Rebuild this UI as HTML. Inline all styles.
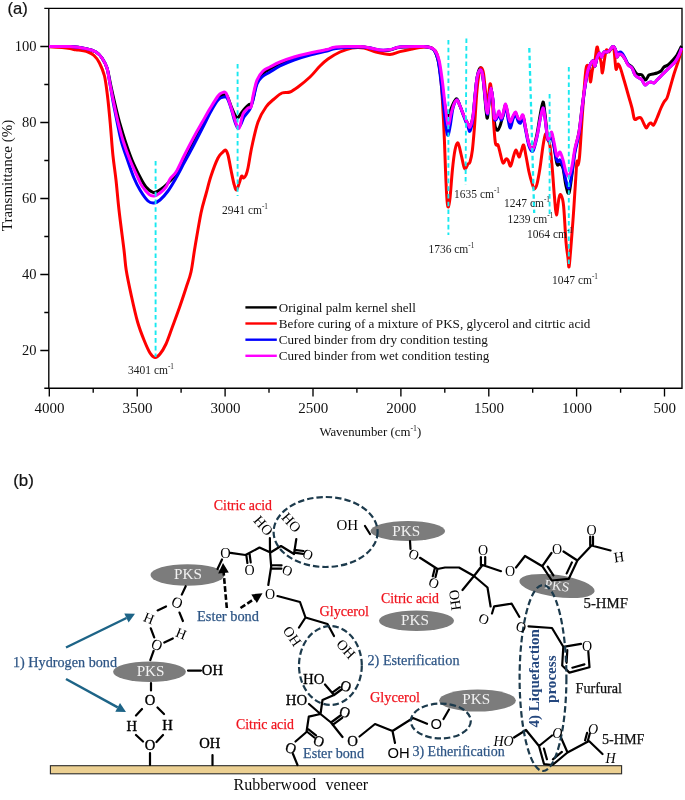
<!DOCTYPE html>
<html lang="en"><head><meta charset="utf-8"><title>FTIR spectra and bonding mechanism</title>
<style>html,body{margin:0;padding:0;background:#fff}svg{display:block}text{white-space:pre}</style></head>
<body>
<svg width="685" height="800" viewBox="0 0 685 800">
<rect width="685" height="800" fill="#fff"/>
<g id="chart">
<text x="7.6" y="13.8" font-family="Liberation Sans, sans-serif" font-size="16.6" fill="#111" stroke="#111" stroke-width="0.2">(a)</text>
<path d="M44.3 8.4H682.0V388.2H44.3M48.8 8.4V388.2" fill="none" stroke="#000" stroke-width="1.35"/>
<path d="M48.8 350.5h-8.5M48.8 274.5h-8.5M48.8 198.5h-8.5M48.8 122.5h-8.5M48.8 46.5h-8.5M48.8 312.5h-4.5M48.8 236.5h-4.5M48.8 160.5h-4.5M48.8 84.5h-4.5M49.3 388.2v8.3M137.2 388.2v8.3M225.1 388.2v8.3M313.0 388.2v8.3M400.9 388.2v8.3M488.8 388.2v8.3M576.6 388.2v8.3M664.5 388.2v8.3M93.2 388.2v4.6M181.1 388.2v4.6M269.0 388.2v4.6M356.9 388.2v4.6M444.8 388.2v4.6M532.7 388.2v4.6M620.6 388.2v4.6" stroke="#000" stroke-width="1.35" fill="none"/>
<g font-family="Liberation Serif, serif" font-size="15" fill="#111">
<text x="36.5" y="355.3" text-anchor="end" font-size="14.5">20</text>
<text x="36.5" y="279.3" text-anchor="end" font-size="14.5">40</text>
<text x="36.5" y="203.3" text-anchor="end" font-size="14.5">60</text>
<text x="36.5" y="127.3" text-anchor="end" font-size="14.5">80</text>
<text x="36.5" y="51.3" text-anchor="end" font-size="14.5">100</text>
<text x="49.6" y="412.6" text-anchor="middle">4000</text>
<text x="137.5" y="412.6" text-anchor="middle">3500</text>
<text x="225.4" y="412.6" text-anchor="middle">3000</text>
<text x="313.3" y="412.6" text-anchor="middle">2500</text>
<text x="401.2" y="412.6" text-anchor="middle">2000</text>
<text x="489.1" y="412.6" text-anchor="middle">1500</text>
<text x="576.9" y="412.6" text-anchor="middle">1000</text>
<text x="664.8" y="412.6" text-anchor="middle">500</text>
</g>
<text transform="translate(11.6 175.5) rotate(-90)" text-anchor="middle" font-family="Liberation Serif, serif" font-size="15" fill="#111">Transmittance (%)</text>
<text x="319.4" y="436.4" font-family="Liberation Serif, serif" font-size="13.1" fill="#111" textLength="101.8" lengthAdjust="spacingAndGlyphs">Wavenumber (cm<tspan font-size="8" dy="-5.5">-1</tspan><tspan dy="5.5">)</tspan></text>
<path d="M49.0 46.6C52.5 46.6 63.8 46.3 70.0 46.6C76.2 46.9 81.7 47.7 86.0 48.6C90.3 49.5 93.3 50.4 96.0 52.0C98.7 53.6 100.2 55.3 102.0 58.0C103.8 60.7 105.6 63.7 107.0 68.0C108.4 72.3 109.2 78.0 110.5 84.0C111.8 90.0 113.4 97.3 115.0 104.0C116.6 110.7 118.2 117.7 120.0 124.0C121.8 130.3 123.5 136.0 125.5 142.0C127.5 148.0 129.6 154.2 132.0 160.0C134.4 165.8 137.7 172.5 140.0 177.0C142.3 181.5 143.8 184.4 146.0 187.0C148.2 189.6 151.0 191.7 153.0 192.4C155.0 193.1 156.2 191.9 158.0 191.0C159.8 190.1 162.0 188.7 164.0 187.0C166.0 185.3 167.8 183.3 170.0 181.0C172.2 178.7 174.5 176.9 177.0 173.0C179.5 169.1 182.2 163.2 185.0 157.5C187.8 151.8 191.2 144.5 194.0 139.0C196.8 133.5 199.3 129.3 202.0 124.6C204.7 119.8 207.3 114.9 210.0 110.5C212.7 106.1 215.8 100.6 218.0 98.0C220.2 95.4 221.5 95.3 223.0 95.0C224.5 94.7 225.7 94.2 227.0 96.0C228.3 97.8 229.7 102.8 231.0 106.0C232.3 109.2 233.9 113.0 235.0 115.0C236.1 117.0 236.8 118.0 237.6 118.0C238.4 118.0 238.9 116.4 240.0 115.0C241.1 113.6 242.5 111.2 244.0 109.5C245.5 107.8 247.8 105.2 249.0 104.5C250.2 103.8 250.2 106.8 251.0 105.5C251.8 104.2 252.5 100.9 253.5 97.0C254.5 93.1 255.4 85.9 257.0 82.0C258.6 78.1 260.8 75.7 263.0 73.5C265.2 71.3 267.2 70.6 270.0 69.0C272.8 67.4 276.0 65.8 280.0 64.0C284.0 62.2 289.0 60.2 294.0 58.5C299.0 56.8 304.5 55.4 310.0 54.0C315.5 52.6 322.7 51.1 327.0 50.0C331.3 48.9 330.5 48.0 336.0 47.5C341.5 47.0 354.3 46.7 360.0 46.8C365.7 46.9 366.7 47.4 370.0 48.0C373.3 48.6 376.7 50.2 380.0 50.5C383.3 50.8 386.7 50.5 390.0 50.0C393.3 49.5 395.0 47.8 400.0 47.3C405.0 46.8 415.3 46.8 420.0 46.8C424.7 46.8 425.7 46.5 428.0 47.0C430.3 47.5 432.3 47.8 434.0 50.0C435.7 52.2 436.8 55.3 438.0 60.0C439.2 64.7 440.0 71.3 441.0 78.0C442.0 84.7 443.1 94.2 444.0 100.0C444.9 105.8 445.8 110.3 446.5 113.0C447.2 115.7 447.4 116.7 448.2 116.0C448.9 115.3 450.0 111.3 451.0 109.0C452.0 106.7 453.0 103.7 454.0 102.0C455.0 100.3 456.0 98.3 457.0 99.0C458.0 99.7 458.8 103.2 460.0 106.0C461.2 108.8 462.7 113.0 464.0 116.0C465.3 119.0 467.0 122.2 468.0 124.0C469.0 125.8 469.2 128.3 470.0 127.0C470.8 125.7 472.2 121.2 473.0 116.0C473.8 110.8 474.3 102.3 475.0 96.0C475.7 89.7 476.2 82.7 477.0 78.0C477.8 73.3 479.1 68.8 480.0 68.0C480.9 67.2 481.7 69.0 482.4 73.0C483.1 77.0 483.8 85.8 484.4 92.0C485.0 98.2 485.5 105.7 486.0 110.0C486.5 114.3 486.9 119.3 487.4 118.0C487.9 116.7 488.6 106.8 489.2 102.0C489.8 97.2 490.4 89.0 491.0 89.0C491.6 89.0 492.4 96.5 493.0 102.0C493.6 107.5 493.9 117.5 494.4 122.0C494.9 126.5 495.4 127.7 496.0 129.0C496.6 130.3 497.3 130.5 498.0 130.0C498.7 129.5 499.3 127.8 500.0 126.0C500.7 124.2 501.4 121.0 502.0 119.0C502.6 117.0 502.9 116.3 503.5 114.0C504.1 111.7 504.8 104.5 505.6 105.0C506.4 105.5 507.6 113.8 508.4 117.0C509.2 120.2 509.6 124.0 510.4 124.0C511.2 124.0 512.1 118.8 513.0 117.0C513.9 115.2 514.8 112.7 515.6 113.0C516.4 113.3 517.2 117.8 518.0 119.0C518.8 120.2 519.6 120.5 520.4 120.0C521.2 119.5 522.1 114.7 523.0 116.0C523.9 117.3 524.6 123.3 525.6 128.0C526.6 132.7 527.8 140.5 529.0 144.0C530.2 147.5 531.7 150.7 533.0 149.0C534.3 147.3 535.8 139.5 537.0 134.0C538.2 128.5 539.0 121.3 540.0 116.0C541.0 110.7 542.2 102.3 543.0 102.0C543.8 101.7 544.2 108.0 545.0 114.0C545.8 120.0 546.8 134.0 547.6 138.0C548.4 142.0 548.9 138.7 549.6 138.0C550.3 137.3 550.9 132.7 551.6 134.0C552.3 135.3 553.1 141.0 554.0 146.0C554.9 151.0 556.0 161.0 557.0 164.0C558.0 167.0 559.0 163.3 560.0 164.0C561.0 164.7 562.0 164.3 563.0 168.0C564.0 171.7 565.0 181.8 566.0 186.0C567.0 190.2 568.0 195.0 569.0 193.0C570.0 191.0 571.0 181.2 572.0 174.0C573.0 166.8 573.8 157.0 575.0 150.0C576.2 143.0 577.8 139.0 579.0 132.0C580.2 125.0 581.0 115.7 582.0 108.0C583.0 100.3 584.0 92.3 585.0 86.0C586.0 79.7 587.0 73.8 588.0 70.0C589.0 66.2 590.1 64.5 591.0 63.0C591.9 61.5 592.9 60.5 593.6 61.0C594.3 61.5 594.4 66.5 595.0 66.0C595.6 65.5 596.2 60.2 597.0 58.0C597.8 55.8 598.8 53.2 599.6 53.0C600.4 52.8 600.9 57.2 601.6 57.0C602.3 56.8 603.1 52.8 604.0 52.0C604.9 51.2 606.0 52.3 607.0 52.0C608.0 51.7 609.0 50.9 610.0 50.0C611.0 49.1 612.1 46.6 613.0 46.6C613.9 46.6 614.9 48.3 615.6 50.0C616.3 51.7 616.4 56.3 617.0 57.0C617.6 57.7 618.2 54.3 619.0 54.0C619.8 53.7 621.0 54.2 622.0 55.0C623.0 55.8 624.0 57.5 625.0 59.0C626.0 60.5 626.8 62.7 628.0 64.0C629.2 65.3 630.5 65.3 632.0 67.0C633.5 68.7 635.3 72.7 637.0 74.0C638.7 75.3 640.6 74.0 642.0 75.0C643.4 76.0 644.4 80.0 645.6 80.0C646.8 80.0 647.8 76.0 649.0 75.0C650.2 74.0 651.7 74.3 653.0 74.0C654.3 73.7 655.7 73.5 657.0 73.0C658.3 72.5 659.8 72.0 661.0 71.0C662.2 70.0 662.8 68.0 664.0 67.0C665.2 66.0 666.7 66.0 668.0 65.0C669.3 64.0 670.5 62.7 672.0 61.0C673.5 59.3 675.4 57.5 677.0 55.0C678.6 52.5 680.8 47.5 681.6 46.0" fill="none" stroke="#000" stroke-width="3" stroke-linejoin="round" stroke-linecap="butt"/>
<path d="M49.0 46.8C51.2 46.9 58.5 47.3 62.0 47.6C65.5 47.9 67.7 48.2 70.0 48.6C72.3 49.0 74.0 49.5 76.0 49.8C78.0 50.1 80.0 50.2 82.0 50.6C84.0 51.0 86.0 51.2 88.0 52.0C90.0 52.8 92.1 53.7 94.0 55.5C95.9 57.3 97.8 59.6 99.5 63.0C101.2 66.4 103.2 70.5 104.5 76.0C105.8 81.5 106.5 88.0 107.5 96.0C108.5 104.0 109.4 114.0 110.3 124.0C111.2 134.0 112.0 146.7 113.0 156.0C114.0 165.3 115.0 171.0 116.0 180.0C117.0 189.0 117.7 198.3 119.0 210.0C120.3 221.7 122.8 240.0 124.0 250.0C125.2 260.0 125.0 262.3 126.2 270.0C127.4 277.7 129.5 287.3 131.4 296.0C133.3 304.7 135.5 314.7 137.6 322.0C139.7 329.3 141.9 334.8 144.0 340.0C146.1 345.2 148.2 350.1 150.0 353.0C151.8 355.9 153.3 357.2 155.0 357.4C156.7 357.6 158.2 356.2 160.0 354.0C161.8 351.8 164.0 348.3 166.0 344.0C168.0 339.7 169.7 334.3 172.0 328.0C174.3 321.7 177.7 312.7 180.0 306.0C182.3 299.3 184.2 293.7 186.0 288.0C187.8 282.3 189.5 278.8 191.0 272.0C192.5 265.2 193.3 256.8 195.0 247.0C196.7 237.2 199.2 221.8 201.0 213.0C202.8 204.2 204.3 200.2 206.0 194.0C207.7 187.8 209.0 182.0 211.0 176.0C213.0 170.0 216.0 162.0 218.0 158.0C220.0 154.0 221.8 153.3 223.0 152.0C224.2 150.7 224.7 149.5 225.5 150.0C226.3 150.5 227.1 151.7 228.0 155.0C228.9 158.3 230.0 165.2 231.0 170.0C232.0 174.8 233.1 180.7 234.0 184.0C234.9 187.3 235.6 190.3 236.5 190.0C237.4 189.7 238.8 184.3 239.6 182.0C240.4 179.7 240.9 176.7 241.6 176.0C242.3 175.3 242.9 178.2 243.6 178.0C244.3 177.8 245.3 176.7 246.0 175.0C246.7 173.3 247.0 172.8 248.0 168.0C249.0 163.2 250.3 153.7 252.0 146.0C253.7 138.3 255.7 128.5 258.0 122.0C260.3 115.5 263.3 110.8 266.0 107.0C268.7 103.2 271.3 101.3 274.0 99.0C276.7 96.7 279.3 94.2 282.0 93.0C284.7 91.8 287.3 93.0 290.0 92.0C292.7 91.0 294.7 89.5 298.0 87.0C301.3 84.5 306.3 80.5 310.0 77.0C313.7 73.5 317.0 69.0 320.0 66.0C323.0 63.0 324.7 61.3 328.0 59.0C331.3 56.7 336.0 53.8 340.0 52.0C344.0 50.2 348.0 48.7 352.0 48.0C356.0 47.3 360.0 47.3 364.0 48.0C368.0 48.7 371.7 50.9 376.0 52.0C380.3 53.1 386.0 54.5 390.0 54.4C394.0 54.3 396.3 52.5 400.0 51.6C403.7 50.7 408.0 49.8 412.0 49.0C416.0 48.2 420.7 47.2 424.0 47.0C427.3 46.8 429.8 46.8 432.0 48.0C434.2 49.2 435.7 50.3 437.0 54.0C438.3 57.7 439.1 62.3 440.0 70.0C440.9 77.7 441.7 88.3 442.4 100.0C443.1 111.7 443.9 128.3 444.4 140.0C444.9 151.7 445.1 160.0 445.5 170.0C445.9 180.0 446.5 193.8 447.0 200.0C447.5 206.2 447.9 207.3 448.4 207.0C448.9 206.7 449.3 204.2 450.0 198.0C450.7 191.8 451.6 178.0 452.4 170.0C453.2 162.0 454.1 154.5 455.0 150.0C455.9 145.5 457.0 142.3 458.0 143.0C459.0 143.7 460.0 150.0 461.0 154.0C462.0 158.0 463.2 164.6 464.0 167.0C464.8 169.4 464.9 168.9 465.6 168.4C466.3 167.9 467.3 165.1 468.0 164.0C468.7 162.9 469.3 164.3 470.0 162.0C470.7 159.7 471.7 155.7 472.4 150.0C473.1 144.3 473.6 138.0 474.4 128.0C475.2 118.0 476.1 99.5 477.0 90.0C477.9 80.5 478.8 74.7 479.6 71.0C480.4 67.3 480.9 67.5 481.6 68.0C482.3 68.5 482.9 69.3 483.6 74.0C484.3 78.7 485.3 90.7 486.0 96.0C486.7 101.3 486.9 108.0 487.6 106.0C488.3 104.0 489.3 85.7 490.0 84.0C490.7 82.3 491.3 88.7 492.0 96.0C492.7 103.3 493.4 120.0 494.0 128.0C494.6 136.0 494.9 141.2 495.6 144.0C496.3 146.8 497.2 143.3 498.0 145.0C498.8 146.7 499.6 151.0 500.4 154.0C501.2 157.0 502.1 162.2 503.0 163.0C503.9 163.8 505.2 159.5 506.0 159.0C506.8 158.5 507.2 158.8 508.0 160.0C508.8 161.2 509.7 166.7 510.6 166.0C511.5 165.3 512.7 158.7 513.6 156.0C514.5 153.3 515.1 149.8 516.0 150.0C516.9 150.2 518.2 156.7 519.0 157.0C519.8 157.3 520.2 154.0 521.0 152.0C521.8 150.0 522.8 144.3 523.6 145.0C524.4 145.7 525.1 151.5 526.0 156.0C526.9 160.5 528.0 167.5 529.0 172.0C530.0 176.5 531.1 180.2 532.0 183.0C532.9 185.8 533.6 188.8 534.4 189.0C535.2 189.2 536.1 187.5 537.0 184.0C537.9 180.5 539.0 174.3 540.0 168.0C541.0 161.7 542.1 151.7 543.0 146.0C543.9 140.3 544.8 135.0 545.6 134.0C546.4 133.0 547.3 138.0 548.0 140.0C548.7 142.0 549.3 141.0 550.0 146.0C550.7 151.0 551.7 161.7 552.4 170.0C553.1 178.3 553.7 188.5 554.4 196.0C555.1 203.5 555.6 214.7 556.4 215.0C557.2 215.3 558.2 201.3 559.0 198.0C559.8 194.7 560.2 193.7 561.0 195.0C561.8 196.3 562.8 198.2 563.6 206.0C564.4 213.8 565.3 233.3 566.0 242.0C566.7 250.7 567.5 253.8 568.0 258.0C568.5 262.2 568.6 268.0 569.0 267.0C569.4 266.0 569.8 259.8 570.5 252.0C571.2 244.2 572.2 230.3 573.0 220.0C573.8 209.7 574.4 198.7 575.0 190.0C575.6 181.3 576.1 172.8 576.4 168.0C576.7 163.2 576.7 161.5 577.0 161.0C577.3 160.5 577.6 165.8 578.0 165.0C578.4 164.2 578.9 163.5 579.6 156.0C580.3 148.5 581.2 131.7 582.0 120.0C582.8 108.3 583.7 94.8 584.4 86.0C585.1 77.2 585.6 70.0 586.4 67.0C587.2 64.0 588.3 65.5 589.0 68.0C589.7 70.5 589.8 81.7 590.4 82.0C591.0 82.3 591.6 73.7 592.4 70.0C593.2 66.3 594.2 63.8 595.0 60.0C595.8 56.2 596.3 47.8 597.0 47.0C597.7 46.2 598.3 52.5 599.0 55.0C599.7 57.5 600.4 59.0 601.0 62.0C601.6 65.0 601.8 73.3 602.4 73.0C603.0 72.7 603.7 63.8 604.4 60.0C605.1 56.2 605.6 51.3 606.4 50.0C607.2 48.7 608.1 52.3 609.0 52.0C609.9 51.7 610.8 48.3 611.6 48.0C612.4 47.7 613.3 46.5 614.0 50.0C614.7 53.5 615.3 66.7 616.0 69.0C616.7 71.3 617.3 64.2 618.0 64.0C618.7 63.8 619.4 65.3 620.4 68.0C621.4 70.7 622.7 75.7 624.0 80.0C625.3 84.3 626.7 89.3 628.0 94.0C629.3 98.7 630.9 103.8 632.0 108.0C633.1 112.2 633.4 117.3 634.4 119.0C635.4 120.7 636.9 118.2 638.0 118.0C639.1 117.8 640.0 117.0 641.0 118.0C642.0 119.0 643.1 122.3 644.0 124.0C644.9 125.7 645.6 128.0 646.4 128.0C647.2 128.0 648.2 124.8 649.0 124.0C649.8 123.2 650.2 122.8 651.0 123.0C651.8 123.2 652.6 125.8 653.6 125.0C654.6 124.2 655.8 120.8 657.0 118.0C658.2 115.2 659.8 110.7 661.0 108.0C662.2 105.3 663.0 103.7 664.0 102.0C665.0 100.3 666.0 100.3 667.0 98.0C668.0 95.7 668.8 92.0 670.0 88.0C671.2 84.0 672.7 78.3 674.0 74.0C675.3 69.7 676.7 66.0 678.0 62.0C679.3 58.0 681.0 52.0 681.6 50.0" fill="none" stroke="#f00" stroke-width="3" stroke-linejoin="round" stroke-linecap="butt"/>
<path d="M49.0 46.6C52.5 46.6 63.8 46.3 70.0 46.6C76.2 46.9 81.7 47.7 86.0 48.6C90.3 49.5 93.3 50.4 96.0 52.0C98.7 53.6 100.2 55.3 102.0 58.0C103.8 60.7 105.7 63.7 107.0 68.0C108.3 72.3 108.9 78.0 110.0 84.0C111.1 90.0 112.2 97.3 113.5 104.0C114.8 110.7 116.2 117.7 117.5 124.0C118.8 130.3 119.8 136.0 121.5 142.0C123.2 148.0 125.4 154.0 127.5 160.0C129.6 166.0 131.9 173.0 134.0 178.0C136.1 183.0 137.7 186.2 140.0 190.0C142.3 193.8 145.7 198.8 148.0 201.0C150.3 203.2 152.0 203.2 154.0 203.0C156.0 202.8 157.7 202.0 160.0 200.0C162.3 198.0 165.3 194.7 168.0 191.0C170.7 187.3 173.3 182.7 176.0 178.0C178.7 173.3 181.7 167.3 184.0 163.0C186.3 158.7 188.3 155.1 190.0 152.0C191.7 148.9 191.7 149.0 194.0 144.5C196.3 140.0 201.3 130.2 204.0 125.0C206.7 119.8 207.7 117.2 210.0 113.0C212.3 108.8 215.7 102.7 218.0 100.0C220.3 97.3 222.5 97.3 224.0 97.0C225.5 96.7 225.8 96.2 227.0 98.0C228.2 99.8 229.7 104.0 231.0 108.0C232.3 112.0 233.8 118.7 235.0 122.0C236.2 125.3 237.0 127.7 238.0 128.0C239.0 128.3 240.0 125.8 241.0 124.0C242.0 122.2 242.5 119.5 244.0 117.0C245.5 114.5 248.5 111.8 250.0 109.0C251.5 106.2 251.8 104.2 253.0 100.0C254.2 95.8 255.5 87.8 257.0 84.0C258.5 80.2 259.8 79.0 262.0 77.0C264.2 75.0 267.0 73.8 270.0 72.0C273.0 70.2 276.0 68.0 280.0 66.0C284.0 64.0 289.0 61.8 294.0 60.0C299.0 58.2 304.5 56.5 310.0 55.0C315.5 53.5 322.7 52.1 327.0 51.0C331.3 49.9 330.5 49.2 336.0 48.5C341.5 47.8 354.3 47.1 360.0 47.0C365.7 46.9 366.7 47.5 370.0 48.0C373.3 48.5 376.7 49.7 380.0 50.0C383.3 50.3 386.7 50.1 390.0 49.6C393.3 49.1 395.0 47.5 400.0 47.0C405.0 46.5 415.3 46.6 420.0 46.6C424.7 46.6 425.7 46.4 428.0 47.0C430.3 47.6 432.3 47.8 434.0 50.0C435.7 52.2 436.8 54.7 438.0 60.0C439.2 65.3 440.0 73.7 441.0 82.0C442.0 90.3 443.1 102.0 444.0 110.0C444.9 118.0 445.8 125.8 446.5 130.0C447.2 134.2 447.5 136.0 448.2 135.0C448.9 134.0 449.7 128.5 450.5 124.0C451.3 119.5 451.9 112.0 453.0 108.0C454.1 104.0 455.8 100.3 457.0 100.0C458.2 99.7 458.8 103.2 460.0 106.0C461.2 108.8 462.7 113.5 464.0 117.0C465.3 120.5 467.0 124.7 468.0 127.0C469.0 129.3 469.2 132.5 470.0 131.0C470.8 129.5 472.2 123.8 473.0 118.0C473.8 112.2 474.3 102.7 475.0 96.0C475.7 89.3 476.2 82.3 477.0 78.0C477.8 73.7 479.1 70.7 480.0 70.0C480.9 69.3 481.7 70.7 482.4 74.0C483.1 77.3 483.8 84.7 484.4 90.0C485.0 95.3 485.5 102.0 486.0 106.0C486.5 110.0 487.1 115.0 487.6 114.0C488.1 113.0 488.6 104.3 489.2 100.0C489.8 95.7 490.4 88.0 491.0 88.0C491.6 88.0 492.4 94.8 493.0 100.0C493.6 105.2 493.7 116.0 494.4 119.0C495.1 122.0 496.2 119.0 497.0 118.0C497.8 117.0 498.3 112.7 499.0 113.0C499.7 113.3 500.3 119.5 501.0 120.0C501.7 120.5 502.2 118.3 503.0 116.0C503.8 113.7 504.7 105.2 505.6 106.0C506.5 106.8 507.6 117.3 508.4 121.0C509.2 124.7 509.6 128.3 510.4 128.0C511.2 127.7 512.1 121.3 513.0 119.0C513.9 116.7 514.8 113.7 515.6 114.0C516.4 114.3 517.2 119.5 518.0 121.0C518.8 122.5 519.8 123.7 520.6 123.0C521.4 122.3 522.2 115.8 523.0 117.0C523.8 118.2 524.6 125.2 525.6 130.0C526.6 134.8 527.8 142.5 529.0 146.0C530.2 149.5 531.7 152.5 533.0 151.0C534.3 149.5 535.8 142.2 537.0 137.0C538.2 131.8 539.0 124.8 540.0 120.0C541.0 115.2 542.2 108.3 543.0 108.0C543.8 107.7 544.2 112.8 545.0 118.0C545.8 123.2 546.8 135.5 547.6 139.0C548.4 142.5 548.9 139.8 549.6 139.0C550.3 138.2 550.9 132.8 551.6 134.0C552.3 135.2 553.1 141.5 554.0 146.0C554.9 150.5 556.0 158.7 557.0 161.0C558.0 163.3 559.0 159.0 560.0 160.0C561.0 161.0 562.0 163.5 563.0 167.0C564.0 170.5 565.0 177.5 566.0 181.0C567.0 184.5 568.0 189.5 569.0 188.0C570.0 186.5 571.0 178.0 572.0 172.0C573.0 166.0 573.8 158.3 575.0 152.0C576.2 145.7 577.8 141.0 579.0 134.0C580.2 127.0 581.0 117.8 582.0 110.0C583.0 102.2 584.0 93.5 585.0 87.0C586.0 80.5 587.0 75.0 588.0 71.0C589.0 67.0 590.1 64.7 591.0 63.0C591.9 61.3 592.9 60.5 593.6 61.0C594.3 61.5 594.4 66.5 595.0 66.0C595.6 65.5 596.2 60.2 597.0 58.0C597.8 55.8 598.8 53.2 599.6 53.0C600.4 52.8 600.9 57.2 601.6 57.0C602.3 56.8 603.1 52.8 604.0 52.0C604.9 51.2 606.0 52.3 607.0 52.0C608.0 51.7 609.0 50.9 610.0 50.0C611.0 49.1 612.1 46.6 613.0 46.6C613.9 46.6 614.9 48.4 615.6 50.0C616.3 51.6 616.4 55.6 617.0 56.0C617.6 56.4 618.2 53.0 619.0 52.5C619.8 52.0 621.0 52.1 622.0 53.0C623.0 53.9 624.0 56.1 625.0 58.0C626.0 59.9 626.8 62.8 628.0 64.5C629.2 66.2 630.8 66.2 632.0 68.0C633.2 69.8 633.8 73.3 635.0 75.0C636.2 76.7 637.8 77.2 639.0 78.0C640.2 78.8 641.0 78.8 642.0 80.0C643.0 81.2 644.0 84.5 645.0 85.0C646.0 85.5 647.0 83.5 648.0 83.0C649.0 82.5 650.0 82.0 651.0 82.0C652.0 82.0 653.0 83.3 654.0 83.0C655.0 82.7 655.8 81.2 657.0 80.0C658.2 78.8 659.7 77.3 661.0 76.0C662.3 74.7 663.5 73.5 665.0 72.0C666.5 70.5 668.3 68.7 670.0 67.0C671.7 65.3 673.5 64.0 675.0 62.0C676.5 60.0 677.9 57.3 679.0 55.0C680.1 52.7 681.2 49.2 681.6 48.0" fill="none" stroke="#0000ff" stroke-width="3" stroke-linejoin="round" stroke-linecap="butt"/>
<path d="M49.0 46.6C52.5 46.6 63.8 46.3 70.0 46.6C76.2 46.9 81.7 47.7 86.0 48.6C90.3 49.5 93.3 50.4 96.0 52.0C98.7 53.6 100.2 55.3 102.0 58.0C103.8 60.7 105.7 63.7 107.0 68.0C108.3 72.3 108.8 78.0 110.0 84.0C111.2 90.0 112.6 97.3 114.0 104.0C115.4 110.7 116.9 117.7 118.5 124.0C120.1 130.3 121.6 136.0 123.5 142.0C125.4 148.0 127.6 154.0 130.0 160.0C132.4 166.0 136.0 173.7 138.0 178.0C140.0 182.3 140.2 183.3 142.0 186.0C143.8 188.7 147.0 192.7 149.0 194.4C151.0 196.1 152.2 196.2 154.0 196.0C155.8 195.8 158.0 194.5 160.0 193.0C162.0 191.5 164.3 189.3 166.0 187.0C167.7 184.7 168.3 181.5 170.0 179.0C171.7 176.5 173.7 175.8 176.0 172.0C178.3 168.2 181.0 161.9 184.0 156.0C187.0 150.1 191.0 142.4 194.0 136.8C197.0 131.2 199.3 127.3 202.0 122.6C204.7 117.9 207.3 112.9 210.0 108.5C212.7 104.1 216.0 98.6 218.0 96.0C220.0 93.4 220.7 93.3 222.0 92.8C223.3 92.3 224.7 91.1 226.0 93.0C227.3 94.9 228.5 99.5 230.0 104.0C231.5 108.5 233.7 116.0 235.0 120.0C236.3 124.0 237.2 127.0 238.0 128.0C238.8 129.0 239.2 128.3 240.0 126.0C240.8 123.7 241.7 117.0 243.0 114.0C244.3 111.0 246.7 109.2 248.0 108.0C249.3 106.8 250.2 109.0 251.0 107.0C251.8 105.0 252.0 100.5 253.0 96.0C254.0 91.5 255.3 84.2 257.0 80.0C258.7 75.8 260.8 73.2 263.0 71.0C265.2 68.8 267.2 68.5 270.0 67.0C272.8 65.5 276.0 63.7 280.0 62.0C284.0 60.3 289.0 58.5 294.0 57.0C299.0 55.5 304.5 54.2 310.0 53.0C315.5 51.8 322.7 50.5 327.0 49.5C331.3 48.5 330.5 47.5 336.0 47.0C341.5 46.5 354.3 46.4 360.0 46.6C365.7 46.8 366.7 47.4 370.0 48.0C373.3 48.6 376.7 49.7 380.0 50.0C383.3 50.3 386.7 50.1 390.0 49.6C393.3 49.1 395.0 47.5 400.0 47.0C405.0 46.5 415.3 46.6 420.0 46.6C424.7 46.6 425.6 46.4 428.0 47.0C430.4 47.6 432.7 47.8 434.5 50.0C436.3 52.2 437.7 55.0 439.0 60.0C440.3 65.0 441.2 72.7 442.2 80.0C443.2 87.3 444.1 97.0 445.0 104.0C445.9 111.0 446.7 118.5 447.3 122.0C447.9 125.5 448.0 126.3 448.6 125.0C449.2 123.7 450.1 117.5 451.0 114.0C451.9 110.5 453.0 106.3 454.0 104.0C455.0 101.7 456.0 99.7 457.0 100.0C458.0 100.3 458.8 103.3 460.0 106.0C461.2 108.7 462.7 113.0 464.0 116.0C465.3 119.0 467.0 122.2 468.0 124.0C469.0 125.8 469.2 128.3 470.0 127.0C470.8 125.7 472.2 121.2 473.0 116.0C473.8 110.8 474.3 102.3 475.0 96.0C475.7 89.7 476.2 82.3 477.0 78.0C477.8 73.7 479.1 70.7 480.0 70.0C480.9 69.3 481.7 70.7 482.4 74.0C483.1 77.3 483.8 84.7 484.4 90.0C485.0 95.3 485.5 102.2 486.0 106.0C486.5 109.8 487.1 114.0 487.6 113.0C488.1 112.0 488.6 104.2 489.2 100.0C489.8 95.8 490.4 88.0 491.0 88.0C491.6 88.0 492.4 95.0 493.0 100.0C493.6 105.0 493.7 115.3 494.4 118.0C495.1 120.7 496.2 117.2 497.0 116.0C497.8 114.8 498.3 110.7 499.0 111.0C499.7 111.3 500.3 117.5 501.0 118.0C501.7 118.5 502.2 116.3 503.0 114.0C503.8 111.7 504.7 103.7 505.6 104.0C506.5 104.3 507.6 113.0 508.4 116.0C509.2 119.0 509.6 122.0 510.4 122.0C511.2 122.0 512.1 117.7 513.0 116.0C513.9 114.3 514.8 111.7 515.6 112.0C516.4 112.3 517.2 116.8 518.0 118.0C518.8 119.2 519.6 119.5 520.4 119.0C521.2 118.5 522.1 113.5 523.0 115.0C523.9 116.5 524.6 123.2 525.6 128.0C526.6 132.8 527.8 140.5 529.0 144.0C530.2 147.5 531.7 150.3 533.0 149.0C534.3 147.7 535.8 140.8 537.0 136.0C538.2 131.2 539.0 124.7 540.0 120.0C541.0 115.3 542.2 108.3 543.0 108.0C543.8 107.7 544.2 113.0 545.0 118.0C545.8 123.0 546.8 134.8 547.6 138.0C548.4 141.2 548.9 138.0 549.6 137.0C550.3 136.0 550.9 131.2 551.6 132.0C552.3 132.8 553.1 138.0 554.0 142.0C554.9 146.0 556.0 154.3 557.0 156.0C558.0 157.7 559.0 151.3 560.0 152.0C561.0 152.7 562.0 156.7 563.0 160.0C564.0 163.3 565.0 169.3 566.0 172.0C567.0 174.7 568.0 177.0 569.0 176.0C570.0 175.0 571.0 170.7 572.0 166.0C573.0 161.3 573.8 153.7 575.0 148.0C576.2 142.3 577.8 138.7 579.0 132.0C580.2 125.3 581.0 115.7 582.0 108.0C583.0 100.3 584.0 92.3 585.0 86.0C586.0 79.7 587.0 73.8 588.0 70.0C589.0 66.2 590.1 64.5 591.0 63.0C591.9 61.5 592.9 60.5 593.6 61.0C594.3 61.5 594.4 66.5 595.0 66.0C595.6 65.5 596.2 60.2 597.0 58.0C597.8 55.8 598.8 53.2 599.6 53.0C600.4 52.8 600.9 57.2 601.6 57.0C602.3 56.8 603.1 52.8 604.0 52.0C604.9 51.2 606.0 52.3 607.0 52.0C608.0 51.7 609.0 50.9 610.0 50.0C611.0 49.1 612.1 46.6 613.0 46.6C613.9 46.6 614.9 48.3 615.6 50.0C616.3 51.7 616.4 56.3 617.0 57.0C617.6 57.7 618.2 54.3 619.0 54.0C619.8 53.7 621.0 54.2 622.0 55.0C623.0 55.8 624.0 57.3 625.0 59.0C626.0 60.7 626.8 63.5 628.0 65.0C629.2 66.5 630.8 66.3 632.0 68.0C633.2 69.7 633.8 73.3 635.0 75.0C636.2 76.7 637.8 77.2 639.0 78.0C640.2 78.8 641.0 78.8 642.0 80.0C643.0 81.2 644.0 84.5 645.0 85.0C646.0 85.5 647.0 83.5 648.0 83.0C649.0 82.5 650.0 82.0 651.0 82.0C652.0 82.0 653.0 83.3 654.0 83.0C655.0 82.7 655.8 81.2 657.0 80.0C658.2 78.8 659.7 77.3 661.0 76.0C662.3 74.7 663.5 73.5 665.0 72.0C666.5 70.5 668.3 68.7 670.0 67.0C671.7 65.3 673.5 64.0 675.0 62.0C676.5 60.0 677.9 57.3 679.0 55.0C680.1 52.7 681.2 49.2 681.6 48.0" fill="none" stroke="#ff00ff" stroke-width="3" stroke-linejoin="round" stroke-linecap="butt"/>
<g stroke="#19e9f0" stroke-width="1.9" stroke-dasharray="4.6 3.1" fill="none">
<path d="M155.6 161V357"/>
<path d="M237.6 64V196"/>
<path d="M448.4 40V235"/>
<path d="M466.4 38.4L465.6 185"/>
<path d="M529.3 48L534.2 213" stroke-width="2.3"/>
<path d="M549.6 94V216"/>
<path d="M568.8 67V267"/>
</g>
<g font-family="Liberation Serif, serif" font-size="11.5" fill="#1c1c1c">
<text x="128" y="374.4">3401 cm<tspan font-size="7.2" dy="-5">-1</tspan></text>
<text x="222" y="214">2941 cm<tspan font-size="7.2" dy="-5">-1</tspan></text>
<text x="428.4" y="253">1736 cm<tspan font-size="7.2" dy="-5">-1</tspan></text>
<text x="454" y="198">1635 cm<tspan font-size="7.2" dy="-5">-1</tspan></text>
<text x="504" y="207">1247 cm<tspan font-size="7.2" dy="-5">-1</tspan></text>
<text x="507.4" y="223">1239 cm<tspan font-size="7.2" dy="-5">-1</tspan></text>
<text x="527" y="238">1064 cm<tspan font-size="7.2" dy="-5">-1</tspan></text>
<text x="552" y="284">1047 cm<tspan font-size="7.2" dy="-5">-1</tspan></text>
</g>
<g font-family="Liberation Serif, serif" font-size="13.1" fill="#111">
<path d="M245.4 307.4H276.8" stroke="#000" stroke-width="2.4"/>
<text x="278.8" y="311.8">Original palm kernel shell</text>
<path d="M245.4 323.5H276.8" stroke="#f00" stroke-width="2.4"/>
<text x="278.8" y="327.9">Before curing of a mixture of PKS, glycerol and citrtic acid</text>
<path d="M245.4 339.7H276.8" stroke="#0000ff" stroke-width="2.4"/>
<text x="278.8" y="344.1">Cured binder from dry condition testing</text>
<path d="M245.4 355.8H276.8" stroke="#ff00ff" stroke-width="2.4"/>
<text x="278.8" y="360.2">Cured binder from wet condition testing</text>
</g>
</g>
<g id="diagram">
<text x="13.2" y="486.2" font-family="Liberation Sans, sans-serif" font-size="16.9" fill="#111" stroke="#111" stroke-width="0.2">(b)</text>
<rect x="50.4" y="765.7" width="571.2" height="8.1" fill="#ecd092" stroke="#2b2b2b" stroke-width="1.1"/>
<text x="233.5" y="789.5" font-family="Liberation Serif, serif" font-size="16" fill="#0a0a0a" word-spacing="5.4">Rubberwood veneer</text>
<g><ellipse cx="187.5" cy="575" rx="37" ry="10.8" fill="#7c7c7c"/><text x="188" y="578.6" text-anchor="middle" font-family="Liberation Serif, serif" font-size="15.2" fill="#f2f2f2">PKS</text></g>
<g><ellipse cx="149.5" cy="671.8" rx="36.4" ry="10.3" fill="#7c7c7c"/><text x="150.6" y="675.8000000000001" text-anchor="middle" font-family="Liberation Serif, serif" font-size="15.2" fill="#f2f2f2">PKS</text></g>
<g><ellipse cx="407.8" cy="531" rx="37.3" ry="10" fill="#7c7c7c"/><text x="406.3" y="535.6" text-anchor="middle" font-family="Liberation Serif, serif" font-size="15.2" fill="#f2f2f2">PKS</text></g>
<g><ellipse cx="416.5" cy="620.8" rx="37.5" ry="10.3" fill="#7c7c7c"/><text x="415" y="625.2" text-anchor="middle" font-family="Liberation Serif, serif" font-size="15.2" fill="#f2f2f2">PKS</text></g>
<g><ellipse cx="477.5" cy="700.5" rx="38.4" ry="11" fill="#7c7c7c"/><text x="476.2" y="704.0" text-anchor="middle" font-family="Liberation Serif, serif" font-size="15.2" fill="#f2f2f2">PKS</text></g>
<g transform="rotate(8 557 586)"><ellipse cx="557" cy="586" rx="38" ry="11" fill="#7c7c7c"/><text x="557" y="590.2" text-anchor="middle" font-family="Liberation Serif, serif" font-size="13.6" fill="#f2f2f2">PKS</text></g>
<path d="M185.7 586.2L181.8 594.6M166.0 606.4L157.6 610.4M179.5 612.6L182.9 621.0M150.8 628.4L154.2 637.4M172.8 638.5L164.3 642.5M153.6 650.9L150.3 660.0M151.0 683.0L151.0 690.5M142.0 709.0L136.0 715.5M157.5 707.5L164.0 714.0M136.0 735.0L143.0 741.5M163.0 735.0L156.5 742.0M150.0 753.0L150.0 765.0M188.0 670.6L201.0 670.6M212.5 755.0L212.5 765.0M217.5 569.0L222.0 559.5M230.5 552.8L245.5 555.0L259.5 547.5L270.5 552.5M246.3 554.8L247.4 563.0M249.6 554.2L250.7 562.4M269.9 538.0L270.0 552.0L271.2 566.5L268.3 585.0M270.5 552.5L281.0 546.0L294.0 554.0M294.0 554.0L296.3 539.0M294.0 552.6L303.0 553.8M294.4 549.8L303.4 551.0M271.2 565.0L281.6 565.3M271.0 568.3L281.4 568.6M277.5 596.0L300.0 602.0L305.5 617.5L327.5 624.0L334.0 636.0M305.5 617.5L299.0 627.5M365.0 526.0L370.0 534.0M410.0 541.0L410.5 549.0M420.0 557.8L437.5 569.0L445.0 567.5L459.0 567.5L474.0 576.0L482.5 565.0L501.0 571.2M437.5 569.0L435.5 577.0M434.8 568.3L432.8 576.3M474.0 576.0L462.5 590.0M480.9 565.5L480.9 557.0M485.2 564.5L485.2 557.0M516.0 567.5L525.0 556.0L542.3 566.2M474.0 576.0L487.5 587.5L490.6 606.5M492.0 613.5L494.2 606.3L511.7 603.7L519.3 616.8M551.5 553.0L542.3 566.2L551.8 580.5L568.8 578.8L577.4 560.5L563.5 551.5M547.7 566.7L553.4 575.3M566.7 573.4L571.9 562.4M577.4 560.5L591.5 545.5L610.5 550.5M590.2 545.5L590.2 536.5M593.0 545.5L593.0 536.5M528.5 626.3L552.0 628.0L563.3 646.8L581.0 643.8M588.3 651.5L589.5 667.2L569.4 672.6L562.2 665.5L563.3 646.8M584.4 664.4L572.4 667.7M566.6 662.8L567.3 650.0M514.0 737.5L526.0 730.0L539.0 746.0L552.0 735.5M561.0 737.5L567.5 752.5L552.5 765.0L544.0 764.0L539.0 746.0M561.9 751.9L552.9 759.4M546.9 759.3L543.9 748.5M567.5 752.5L589.0 741.0L602.5 754.0M587.8 741.0L589.8 733.5M585.1 740.3L587.1 732.8M309.0 704.0L320.5 714.0L322.5 700.0L334.0 695.0L325.0 684.5M334.0 695.0L341.5 689.5M332.3 692.7L339.8 687.2M320.5 714.0L331.0 722.5L342.5 737.0M331.0 722.5L340.5 715.5M332.7 724.8L342.2 717.8M320.5 714.0L308.8 716.6L306.5 732.0L295.5 741.5M306.8 731.5L314.3 737.5M308.5 729.3L316.0 735.3M293.0 754.0L297.5 765.0M359.5 736.5L375.0 724.0L392.5 731.0L395.0 743.0M392.5 731.0L413.0 718.0L427.0 723.8M443.5 719.0L449.0 709.5" fill="none" stroke="#000" stroke-width="2.2" stroke-linecap="round" stroke-linejoin="round"/>
<g fill="none" stroke="#1c3a4c" stroke-width="2.2" stroke-dasharray="6.4 3">
<ellipse cx="325.6" cy="532" rx="52" ry="35"/>
<ellipse cx="330.4" cy="665.5" rx="31.4" ry="39.4"/>
<ellipse cx="440.8" cy="721" rx="30" ry="17.4"/>
<ellipse cx="543" cy="678" rx="23.4" ry="93" stroke-width="2.2"/>
</g>
<g stroke="#000" stroke-width="2.6" stroke-dasharray="5.7 2.4" fill="none"><path d="M226.8 608L223.6 572"/><path d="M240.5 608L255 598.5"/></g>
<path d="M223 563l5.8 9.6l-10.6 0.9z M262.5 593.2l-11.2 1.2l5.6 8.6z" fill="#000"/>
<path d="M66.0 647.5L126.5 618.0" stroke="#1d6487" stroke-width="2.5" fill="none"/>
<path d="M135.0 613.8L128.6 622.4L124.3 613.6z" fill="#1d6487"/>
<path d="M66.0 679.0L117.7 707.4" stroke="#1d6487" stroke-width="2.5" fill="none"/>
<path d="M126.0 712.0L115.3 711.7L120.0 703.1z" fill="#1d6487"/>
<text x="177.3" y="602.5" dy="0.34em" text-anchor="middle" font-family="Liberation Serif, serif" font-size="15" font-weight="normal" font-style="normal" fill="#000" transform="rotate(22 177.3 602.5)">O</text>
<text x="149.1" y="618.3" dy="0.34em" text-anchor="middle" font-family="Liberation Serif, serif" font-size="14" font-weight="normal" font-style="normal" fill="#000" transform="rotate(22 149.1 618.3)">H</text>
<text x="181.2" y="633.5" dy="0.34em" text-anchor="middle" font-family="Liberation Serif, serif" font-size="14" font-weight="normal" font-style="normal" fill="#000" transform="rotate(22 181.2 633.5)">H</text>
<text x="157" y="644.7" dy="0.34em" text-anchor="middle" font-family="Liberation Serif, serif" font-size="15" font-weight="normal" font-style="normal" fill="#000" transform="rotate(22 157 644.7)">O</text>
<text x="150.1" y="700.3" dy="0.34em" text-anchor="middle" font-family="Liberation Serif, serif" font-size="14.6" font-weight="normal" font-style="normal" fill="#000" stroke="#000" stroke-width="0.4">O</text>
<text x="131.7" y="725.6" dy="0.34em" text-anchor="middle" font-family="Liberation Serif, serif" font-size="14.6" font-weight="normal" font-style="normal" fill="#000" stroke="#000" stroke-width="0.4">H</text>
<text x="167.4" y="725" dy="0.34em" text-anchor="middle" font-family="Liberation Serif, serif" font-size="14.6" font-weight="normal" font-style="normal" fill="#000" stroke="#000" stroke-width="0.4">H</text>
<text x="150.1" y="744.8" dy="0.34em" text-anchor="middle" font-family="Liberation Serif, serif" font-size="14.6" font-weight="normal" font-style="normal" fill="#000" stroke="#000" stroke-width="0.4">O</text>
<text x="212.4" y="670.4" dy="0.34em" text-anchor="middle" font-family="Liberation Serif, serif" font-size="14.6" font-weight="normal" font-style="normal" fill="#000" stroke="#000" stroke-width="0.4">OH</text>
<text x="209.8" y="743" dy="0.34em" text-anchor="middle" font-family="Liberation Serif, serif" font-size="14.6" font-weight="normal" font-style="normal" fill="#000" stroke="#000" stroke-width="0.4">OH</text>
<text x="225.6" y="553" dy="0.34em" text-anchor="middle" font-family="Liberation Serif, serif" font-size="14.5" font-weight="normal" font-style="normal" fill="#000">O</text>
<text x="249.5" y="570" dy="0.34em" text-anchor="middle" font-family="Liberation Serif, serif" font-size="14" font-weight="normal" font-style="normal" fill="#000">O</text>
<text x="263.4" y="525.6" dy="0.34em" text-anchor="middle" font-family="Liberation Serif, serif" font-size="14.6" font-weight="normal" font-style="normal" fill="#000" transform="rotate(48 263.4 525.6)">HO</text>
<text x="291.4" y="522.5" dy="0.34em" text-anchor="middle" font-family="Liberation Serif, serif" font-size="14.6" font-weight="normal" font-style="normal" fill="#000" transform="rotate(48 291.4 522.5)">HO</text>
<text x="308" y="554.5" dy="0.34em" text-anchor="middle" font-family="Liberation Serif, serif" font-size="14" font-weight="normal" font-style="normal" fill="#000" transform="rotate(20 308 554.5)">O</text>
<text x="287.5" y="570.5" dy="0.34em" text-anchor="middle" font-family="Liberation Serif, serif" font-size="14" font-weight="normal" font-style="normal" fill="#000" transform="rotate(20 287.5 570.5)">O</text>
<text x="270" y="594.5" dy="0.34em" text-anchor="middle" font-family="Liberation Serif, serif" font-size="14" font-weight="normal" font-style="normal" fill="#000">O</text>
<text x="292.2" y="636.3" dy="0.34em" text-anchor="middle" font-family="Liberation Serif, serif" font-size="14.4" font-weight="normal" font-style="normal" fill="#000" transform="rotate(55 292.2 636.3)">OH</text>
<text x="346" y="649" dy="0.34em" text-anchor="middle" font-family="Liberation Serif, serif" font-size="14.4" font-weight="normal" font-style="normal" fill="#000" transform="rotate(48 346 649)">OH</text>
<text x="347.3" y="524.5" dy="0.34em" text-anchor="middle" font-family="Liberation Serif, serif" font-size="15" font-weight="normal" font-style="normal" fill="#000">OH</text>
<text x="414" y="554.5" dy="0.34em" text-anchor="middle" font-family="Liberation Serif, serif" font-size="14" font-weight="normal" font-style="normal" fill="#000" transform="rotate(20 414 554.5)">O</text>
<text x="434" y="583" dy="0.34em" text-anchor="middle" font-family="Liberation Serif, serif" font-size="14" font-weight="normal" font-style="normal" fill="#000" transform="rotate(20 434 583)">O</text>
<text x="455.2" y="600" dy="0.34em" text-anchor="middle" font-family="Liberation Serif, serif" font-size="14.4" font-weight="normal" font-style="normal" fill="#000" transform="rotate(82 455.2 600)">OH</text>
<text x="483" y="550" dy="0.34em" text-anchor="middle" font-family="Liberation Serif, serif" font-size="14" font-weight="normal" font-style="normal" fill="#000">O</text>
<text x="510" y="571" dy="0.34em" text-anchor="middle" font-family="Liberation Serif, serif" font-size="14" font-weight="normal" font-style="normal" fill="#000">O</text>
<text x="484" y="619" dy="0.34em" text-anchor="middle" font-family="Liberation Serif, serif" font-size="14" font-weight="normal" font-style="normal" fill="#000" transform="rotate(20 484 619)">O</text>
<text x="521" y="627" dy="0.34em" text-anchor="middle" font-family="Liberation Serif, serif" font-size="14" font-weight="normal" font-style="normal" fill="#000" transform="rotate(15 521 627)">O</text>
<text x="557" y="549" dy="0.34em" text-anchor="middle" font-family="Liberation Serif, serif" font-size="14" font-weight="normal" font-style="normal" fill="#000">O</text>
<text x="591.5" y="530" dy="0.34em" text-anchor="middle" font-family="Liberation Serif, serif" font-size="14" font-weight="normal" font-style="normal" fill="#000">O</text>
<text x="619" y="557" dy="0.34em" text-anchor="middle" font-family="Liberation Serif, serif" font-size="14.4" font-weight="normal" font-style="normal" fill="#000" transform="rotate(-8 619 557)">H</text>
<text x="587" y="646" dy="0.34em" text-anchor="middle" font-family="Liberation Serif, serif" font-size="14" font-weight="normal" font-style="normal" fill="#000">O</text>
<text x="503.5" y="741" dy="0.34em" text-anchor="middle" font-family="Liberation Serif, serif" font-size="14" font-weight="normal" font-style="italic" fill="#000">HO</text>
<text x="557.3" y="733" dy="0.34em" text-anchor="middle" font-family="Liberation Serif, serif" font-size="14" font-weight="normal" font-style="italic" fill="#000">O</text>
<text x="593" y="729" dy="0.34em" text-anchor="middle" font-family="Liberation Serif, serif" font-size="14" font-weight="normal" font-style="italic" fill="#000">O</text>
<text x="610.5" y="758.5" dy="0.34em" text-anchor="middle" font-family="Liberation Serif, serif" font-size="14" font-weight="normal" font-style="italic" fill="#000">H</text>
<text x="313.8" y="679" dy="0.34em" text-anchor="middle" font-family="Liberation Serif, serif" font-size="14.8" font-weight="normal" font-style="normal" fill="#000" stroke="#000" stroke-width="0.3">HO</text>
<text x="296.5" y="699.5" dy="0.34em" text-anchor="middle" font-family="Liberation Serif, serif" font-size="14.8" font-weight="normal" font-style="normal" fill="#000" stroke="#000" stroke-width="0.3">HO</text>
<text x="346" y="686" dy="0.34em" text-anchor="middle" font-family="Liberation Serif, serif" font-size="14.8" font-weight="normal" font-style="normal" fill="#000" transform="rotate(18 346 686)" stroke="#000" stroke-width="0.3">O</text>
<text x="345" y="712" dy="0.34em" text-anchor="middle" font-family="Liberation Serif, serif" font-size="14.8" font-weight="normal" font-style="normal" fill="#000" transform="rotate(18 345 712)" stroke="#000" stroke-width="0.3">O</text>
<text x="352.5" y="741" dy="0.34em" text-anchor="middle" font-family="Liberation Serif, serif" font-size="14.8" font-weight="normal" font-style="normal" fill="#000" stroke="#000" stroke-width="0.3">O</text>
<text x="319" y="741" dy="0.34em" text-anchor="middle" font-family="Liberation Serif, serif" font-size="14.8" font-weight="normal" font-style="normal" fill="#000" transform="rotate(18 319 741)" stroke="#000" stroke-width="0.3">O</text>
<text x="291" y="748" dy="0.34em" text-anchor="middle" font-family="Liberation Serif, serif" font-size="14.8" font-weight="normal" font-style="normal" fill="#000" transform="rotate(18 291 748)" stroke="#000" stroke-width="0.3">O</text>
<text x="398.5" y="752.8" dy="0.34em" text-anchor="middle" font-family="Liberation Sans, sans-serif" font-size="14.8" font-weight="normal" font-style="normal" fill="#000">OH</text>
<text x="436.3" y="724" dy="0.34em" text-anchor="middle" font-family="Liberation Sans, sans-serif" font-size="14.8" font-weight="normal" font-style="normal" fill="#000">O</text>
<text x="213.8" y="510" font-family="Liberation Serif, serif" font-size="15" fill="#f0141e" stroke="#f0141e" stroke-width="0.25" font-weight="normal" textLength="58.2" lengthAdjust="spacingAndGlyphs">Citric acid</text>
<text x="381" y="603.3" font-family="Liberation Serif, serif" font-size="15" fill="#f0141e" stroke="#f0141e" stroke-width="0.25" font-weight="normal" textLength="58" lengthAdjust="spacingAndGlyphs">Citric acid</text>
<text x="236" y="729" font-family="Liberation Serif, serif" font-size="15" fill="#f0141e" stroke="#f0141e" stroke-width="0.25" font-weight="normal" textLength="58" lengthAdjust="spacingAndGlyphs">Citric acid</text>
<text x="319.5" y="616" font-family="Liberation Serif, serif" font-size="15" fill="#f0141e" stroke="#f0141e" stroke-width="0.25" font-weight="normal" textLength="49.5" lengthAdjust="spacingAndGlyphs">Glycerol</text>
<text x="370" y="701.5" font-family="Liberation Serif, serif" font-size="15" fill="#f0141e" stroke="#f0141e" stroke-width="0.25" font-weight="normal" textLength="50" lengthAdjust="spacingAndGlyphs">Glycerol</text>
<text x="197" y="621" font-family="Liberation Serif, serif" font-size="15" fill="#2d5585" stroke="#2d5585" stroke-width="0.25" font-weight="normal" textLength="62" lengthAdjust="spacingAndGlyphs">Ester bond</text>
<text x="303" y="757.5" font-family="Liberation Serif, serif" font-size="15" fill="#2d5585" stroke="#2d5585" stroke-width="0.25" font-weight="normal" textLength="61" lengthAdjust="spacingAndGlyphs">Ester bond</text>
<text x="13" y="667" font-family="Liberation Serif, serif" font-size="15" fill="#2d5585" stroke="#2d5585" stroke-width="0.25" font-weight="normal" textLength="104" lengthAdjust="spacingAndGlyphs">1) Hydrogen bond</text>
<text x="367.5" y="664.5" font-family="Liberation Serif, serif" font-size="15" fill="#2d5585" stroke="#2d5585" stroke-width="0.25" font-weight="normal" textLength="92" lengthAdjust="spacingAndGlyphs">2) Esterification</text>
<text x="412.4" y="756.3" font-family="Liberation Serif, serif" font-size="15" fill="#2d5585" stroke="#2d5585" stroke-width="0.25" font-weight="normal" textLength="92.4" lengthAdjust="spacingAndGlyphs">3) Etherification</text>
<text x="583.5" y="607.5" font-family="Liberation Serif, serif" font-size="15" fill="#111" stroke="#111" stroke-width="0.25" font-weight="normal" textLength="44.5" lengthAdjust="spacingAndGlyphs">5-HMF</text>
<text x="602" y="744" font-family="Liberation Serif, serif" font-size="15" fill="#111" stroke="#111" stroke-width="0.25" font-weight="normal" textLength="42.5" lengthAdjust="spacingAndGlyphs">5-HMF</text>
<text x="575.5" y="692.5" font-family="Liberation Serif, serif" font-size="15" fill="#111" stroke="#111" stroke-width="0.25" font-weight="normal" textLength="46.5" lengthAdjust="spacingAndGlyphs">Furfural</text>
<text transform="translate(539 678.3) rotate(-90)" text-anchor="middle" font-family="Liberation Serif, serif" font-size="14.5" font-weight="bold" fill="#24477e" textLength="98.5" lengthAdjust="spacingAndGlyphs">4) Liquefaction</text>
<text transform="translate(556.4 679.2) rotate(-90)" text-anchor="middle" font-family="Liberation Serif, serif" font-size="14.5" font-weight="bold" fill="#24477e" textLength="47.5" lengthAdjust="spacingAndGlyphs">process</text>
</g>
</svg>
</body></html>
